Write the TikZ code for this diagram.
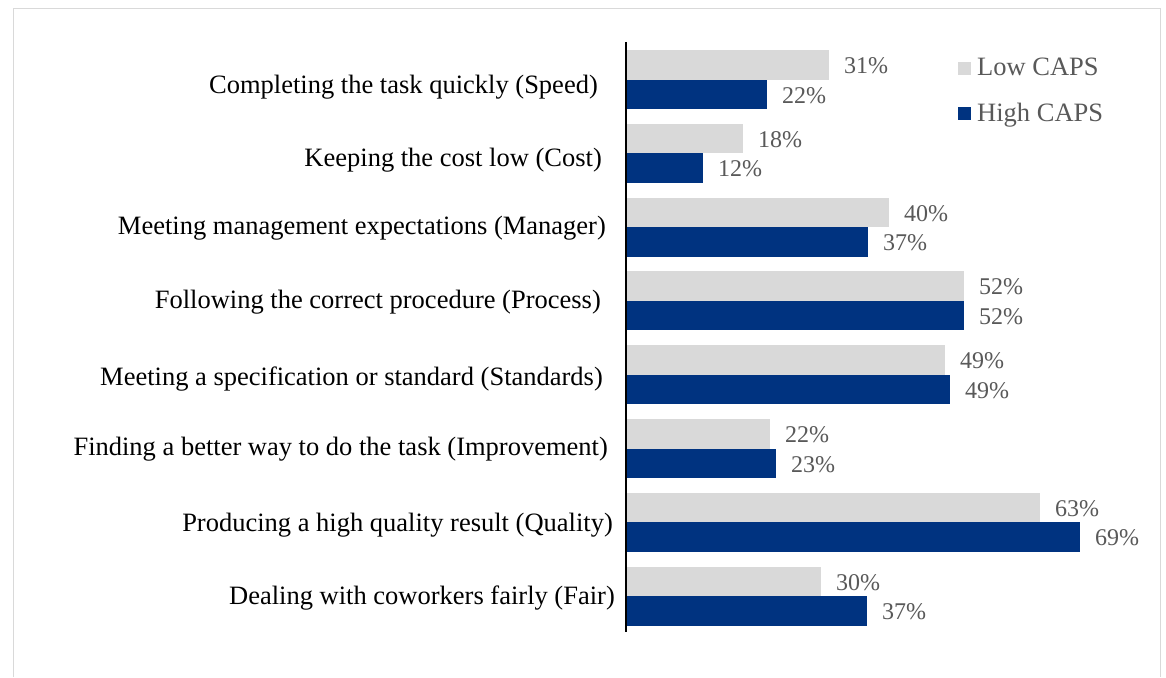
\documentclass[tikz,border=0pt]{standalone}
\usepackage{fontspec}
\setmainfont{Liberation Serif}
\definecolor{lowc}{HTML}{D9D9D9}
\definecolor{highc}{HTML}{003380}
\definecolor{valc}{HTML}{595959}
\definecolor{framec}{HTML}{D9D9D9}
\begin{document}
\begin{tikzpicture}[x=1pt,y=-1pt,
  cat/.style={anchor=base east, inner sep=0pt, font=\fontsize{26.5}{30}\selectfont, text=black},
  val/.style={anchor=base west, inner sep=0pt, font=\fontsize{24}{28}\selectfont, text=valc},
  leg/.style={anchor=base west, inner sep=0pt, font=\fontsize{26.5}{30}\selectfont, text=valc},
  lowbar/.style={fill=lowc},
  highbar/.style={fill=highc},
  legsq/.style={minimum size=13pt, inner sep=0pt, draw=none}]
\useasboundingbox (0,0) rectangle (1166,677);
\fill[white] (0,0) rectangle (1166,677);
\draw[framec, line width=1.5pt] (13.5,677) -- (13.5,8.5) -- (1160.5,8.5) -- (1160.5,677);
\foreach \i/\lo/\hi/\lv/\hv/\lab/\lx/\bl in {
  0/829/767/31/22/Completing the task quickly (Speed)/598/93,
  1/743/703/18/12/Keeping the cost low (Cost)/602/166,
  2/889/868/40/37/Meeting management expectations (Manager)/606/234,
  3/964/964/52/52/Following the correct procedure (Process)/601/308,
  4/945/950/49/49/Meeting a specification or standard (Standards)/603/385,
  5/770/776/22/23/Finding a better way to do the task (Improvement)/608/455,
  6/1040/1080/63/69/Producing a high quality result (Quality)/613/531,
  7/821/867/30/37/Dealing with coworkers fairly (Fair)/615/604}{
  \pgfmathsetmacro{\t}{50+73.8*\i}
  \fill[lowbar] (626,\t) rectangle (\lo,\t+29.5);
  \fill[highbar] (626,\t+29.5) rectangle (\hi,\t+59);
  \node[val] (lv\i) at (\lo+15,\t+23.5) {\lv\%};
  \node[val] (hv\i) at (\hi+15,\t+53) {\hv\%};
  \node[cat] (cat\i) at (\lx,\bl) {\lab};
}
\coordinate (axtop) at (626,42);
\coordinate (axbot) at (626,632);
\draw[black, line width=1.5pt] (axtop) -- (axbot);
\node[legsq, fill=lowc] (sqLow) at (964.5,68.5) {};
\node[legsq, fill=highc] (sqHigh) at (964.5,113.5) {};
\node[leg] (legLow) at (977,75) {Low CAPS};
\node[leg] (legHigh) at (977,121) {High CAPS};
\end{tikzpicture}
\end{document}
